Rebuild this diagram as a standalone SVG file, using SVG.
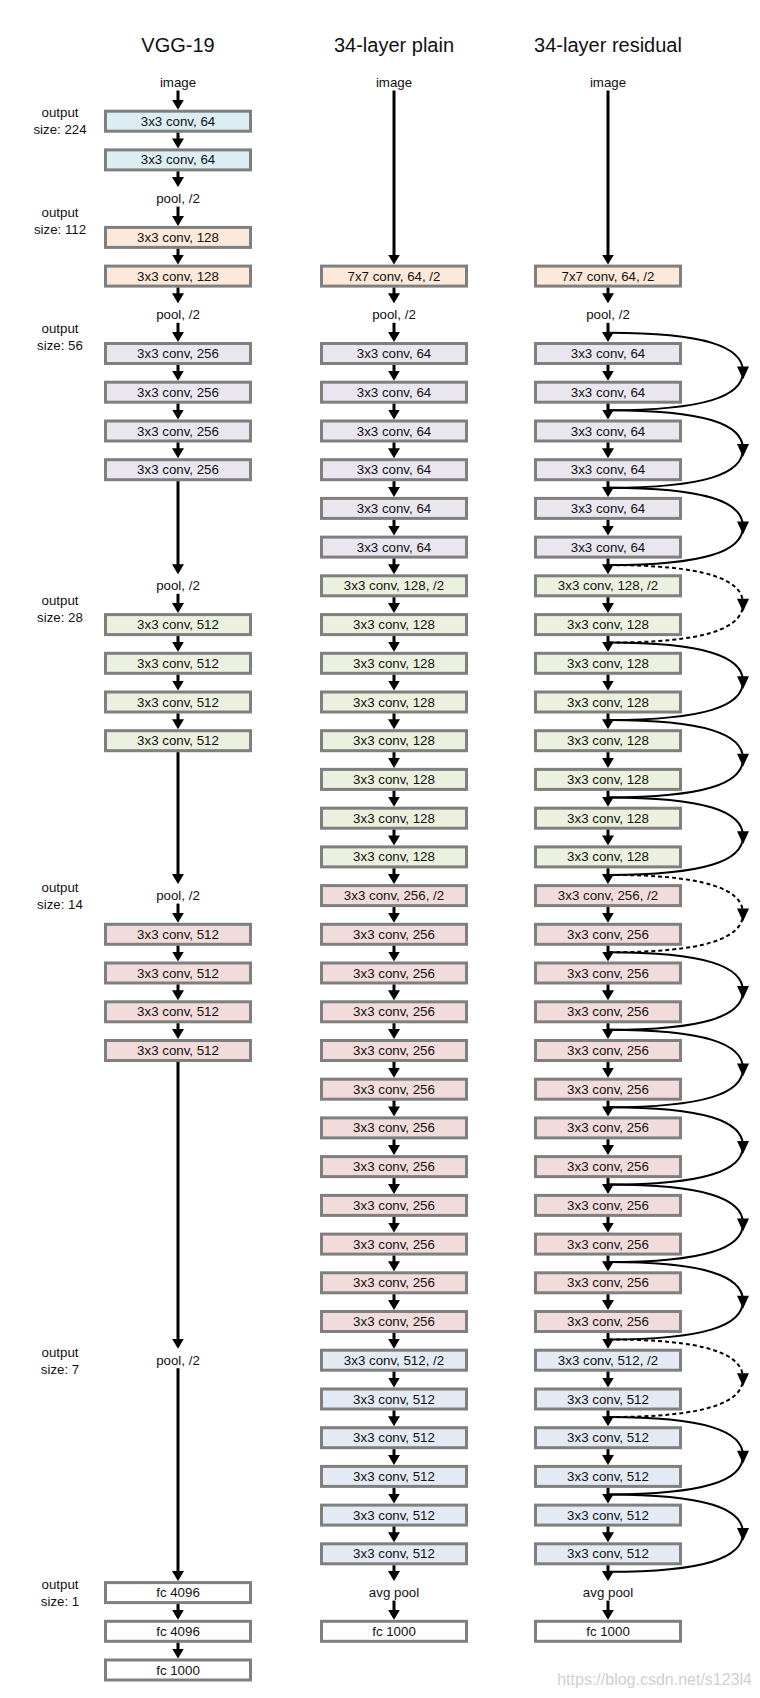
<svg xmlns="http://www.w3.org/2000/svg" xmlns:xlink="http://www.w3.org/1999/xlink" width="760" height="1698" viewBox="0 0 760 1698">
<style>
.b{stroke:#7f7f7f;stroke-width:3}
.cy{fill:#dbeef3}.pe{fill:#fde9d9}.la{fill:#e9e6f0}.gr{fill:#ebf1de}.pk{fill:#f2dcdb}.bl{fill:#e3eaf4}.wh{fill:#ffffff}
text{font-family:"Liberation Sans",Arial,sans-serif;fill:#111;text-anchor:middle}
.t{font-size:13.3px}
.ttl{font-size:20px}
.lbl{font-size:13.3px}
.wm{font-size:16px;fill:#d0d0d0;text-anchor:end}
.a{stroke:#000;stroke-width:3;fill:none;marker-end:url(#arr)}
.sc{stroke:#000;stroke-width:2;fill:none}
.sd{stroke-dasharray:4 3}
</style>
<defs>
<marker id="arr" markerUnits="userSpaceOnUse" viewBox="0 0 10 12" markerWidth="10" markerHeight="12" refX="4" refY="6" orient="auto"><path d="M0,0 L10,6 L0,12 z" fill="#000"/></marker>
<path id="ah" d="M-6,-5 L6,-5 L0,8 z" fill="#000"/>
</defs>
<rect width="760" height="1698" fill="#fff"/>
<g id="titles">
<text class="ttl" x="178" y="52">VGG-19</text>
<text class="ttl" x="394" y="52">34-layer plain</text>
<text class="ttl" x="608" y="52">34-layer residual</text>
</g>
<g id="output-labels">
<text class="lbl" x="60" y="117">output</text><text class="lbl" x="60" y="134">size: 224</text>
<text class="lbl" x="60" y="216.5">output</text><text class="lbl" x="60" y="233.5">size: 112</text>
<text class="lbl" x="60" y="333">output</text><text class="lbl" x="60" y="350">size: 56</text>
<text class="lbl" x="60" y="604.5">output</text><text class="lbl" x="60" y="621.5">size: 28</text>
<text class="lbl" x="60" y="892">output</text><text class="lbl" x="60" y="909">size: 14</text>
<text class="lbl" x="60" y="1357">output</text><text class="lbl" x="60" y="1374">size: 7</text>
<text class="lbl" x="60" y="1589">output</text><text class="lbl" x="60" y="1606">size: 1</text>
</g>
<g id="vgg">
<g id="v-image"><text class="t" x="178" y="87">image</text></g>
<g id="v0"><rect class="b cy" x="105.5" y="111.2" width="145" height="20"/><text class="t" x="178" y="125.7">3x3 conv, 64</text></g>
<g id="v1"><rect class="b cy" x="105.5" y="149.9" width="145" height="20"/><text class="t" x="178" y="164.4">3x3 conv, 64</text></g>
<g id="v-pool1"><text class="t" x="178" y="203.1">pool, /2</text></g>
<g id="v3"><rect class="b pe" x="105.5" y="227.4" width="145" height="20"/><text class="t" x="178" y="241.9">3x3 conv, 128</text></g>
<g id="v4"><rect class="b pe" x="105.5" y="266.1" width="145" height="20"/><text class="t" x="178" y="280.6">3x3 conv, 128</text></g>
<g id="v-pool2"><text class="t" x="178" y="319.3">pool, /2</text></g>
<g id="v6"><rect class="b la" x="105.5" y="343.5" width="145" height="20"/><text class="t" x="178" y="358">3x3 conv, 256</text></g>
<g id="v7"><rect class="b la" x="105.5" y="382.2" width="145" height="20"/><text class="t" x="178" y="396.7">3x3 conv, 256</text></g>
<g id="v8"><rect class="b la" x="105.5" y="421" width="145" height="20"/><text class="t" x="178" y="435.5">3x3 conv, 256</text></g>
<g id="v9"><rect class="b la" x="105.5" y="459.7" width="145" height="20"/><text class="t" x="178" y="474.2">3x3 conv, 256</text></g>
<g id="v-pool3"><text class="t" x="178" y="590.3">pool, /2</text></g>
<g id="v13"><rect class="b gr" x="105.5" y="614.6" width="145" height="20"/><text class="t" x="178" y="629.1">3x3 conv, 512</text></g>
<g id="v14"><rect class="b gr" x="105.5" y="653.3" width="145" height="20"/><text class="t" x="178" y="667.8">3x3 conv, 512</text></g>
<g id="v15"><rect class="b gr" x="105.5" y="692" width="145" height="20"/><text class="t" x="178" y="706.5">3x3 conv, 512</text></g>
<g id="v16"><rect class="b gr" x="105.5" y="730.7" width="145" height="20"/><text class="t" x="178" y="745.2">3x3 conv, 512</text></g>
<g id="v-pool4"><text class="t" x="178" y="900.1">pool, /2</text></g>
<g id="v21"><rect class="b pk" x="105.5" y="924.3" width="145" height="20"/><text class="t" x="178" y="938.8">3x3 conv, 512</text></g>
<g id="v22"><rect class="b pk" x="105.5" y="963" width="145" height="20"/><text class="t" x="178" y="977.5">3x3 conv, 512</text></g>
<g id="v23"><rect class="b pk" x="105.5" y="1001.8" width="145" height="20"/><text class="t" x="178" y="1016.3">3x3 conv, 512</text></g>
<g id="v24"><rect class="b pk" x="105.5" y="1040.5" width="145" height="20"/><text class="t" x="178" y="1055">3x3 conv, 512</text></g>
<g id="v-pool5"><text class="t" x="178" y="1364.7">pool, /2</text></g>
<g id="v38"><rect class="b wh" x="105.5" y="1582.6" width="145" height="20"/><text class="t" x="178" y="1597.1">fc 4096</text></g>
<g id="v39"><rect class="b wh" x="105.5" y="1621.3" width="145" height="20"/><text class="t" x="178" y="1635.8">fc 4096</text></g>
<g id="v40"><rect class="b wh" x="105.5" y="1660" width="145" height="20"/><text class="t" x="178" y="1674.5">fc 1000</text></g>
</g>
<g id="plain">
<g id="p-image"><text class="t" x="394" y="87">image</text></g>
<g id="p4"><rect class="b pe" x="321.5" y="266.1" width="145" height="20"/><text class="t" x="394" y="280.6">7x7 conv, 64, /2</text></g>
<g id="p-pool"><text class="t" x="394" y="319.3">pool, /2</text></g>
<g id="p6"><rect class="b la" x="321.5" y="343.5" width="145" height="20"/><text class="t" x="394" y="358">3x3 conv, 64</text></g>
<g id="p7"><rect class="b la" x="321.5" y="382.2" width="145" height="20"/><text class="t" x="394" y="396.7">3x3 conv, 64</text></g>
<g id="p8"><rect class="b la" x="321.5" y="421" width="145" height="20"/><text class="t" x="394" y="435.5">3x3 conv, 64</text></g>
<g id="p9"><rect class="b la" x="321.5" y="459.7" width="145" height="20"/><text class="t" x="394" y="474.2">3x3 conv, 64</text></g>
<g id="p10"><rect class="b la" x="321.5" y="498.4" width="145" height="20"/><text class="t" x="394" y="512.9">3x3 conv, 64</text></g>
<g id="p11"><rect class="b la" x="321.5" y="537.1" width="145" height="20"/><text class="t" x="394" y="551.6">3x3 conv, 64</text></g>
<g id="p12"><rect class="b gr" x="321.5" y="575.8" width="145" height="20"/><text class="t" x="394" y="590.3">3x3 conv, 128, /2</text></g>
<g id="p13"><rect class="b gr" x="321.5" y="614.6" width="145" height="20"/><text class="t" x="394" y="629.1">3x3 conv, 128</text></g>
<g id="p14"><rect class="b gr" x="321.5" y="653.3" width="145" height="20"/><text class="t" x="394" y="667.8">3x3 conv, 128</text></g>
<g id="p15"><rect class="b gr" x="321.5" y="692" width="145" height="20"/><text class="t" x="394" y="706.5">3x3 conv, 128</text></g>
<g id="p16"><rect class="b gr" x="321.5" y="730.7" width="145" height="20"/><text class="t" x="394" y="745.2">3x3 conv, 128</text></g>
<g id="p17"><rect class="b gr" x="321.5" y="769.4" width="145" height="20"/><text class="t" x="394" y="783.9">3x3 conv, 128</text></g>
<g id="p18"><rect class="b gr" x="321.5" y="808.2" width="145" height="20"/><text class="t" x="394" y="822.7">3x3 conv, 128</text></g>
<g id="p19"><rect class="b gr" x="321.5" y="846.9" width="145" height="20"/><text class="t" x="394" y="861.4">3x3 conv, 128</text></g>
<g id="p20"><rect class="b pk" x="321.5" y="885.6" width="145" height="20"/><text class="t" x="394" y="900.1">3x3 conv, 256, /2</text></g>
<g id="p21"><rect class="b pk" x="321.5" y="924.3" width="145" height="20"/><text class="t" x="394" y="938.8">3x3 conv, 256</text></g>
<g id="p22"><rect class="b pk" x="321.5" y="963" width="145" height="20"/><text class="t" x="394" y="977.5">3x3 conv, 256</text></g>
<g id="p23"><rect class="b pk" x="321.5" y="1001.8" width="145" height="20"/><text class="t" x="394" y="1016.3">3x3 conv, 256</text></g>
<g id="p24"><rect class="b pk" x="321.5" y="1040.5" width="145" height="20"/><text class="t" x="394" y="1055">3x3 conv, 256</text></g>
<g id="p25"><rect class="b pk" x="321.5" y="1079.2" width="145" height="20"/><text class="t" x="394" y="1093.7">3x3 conv, 256</text></g>
<g id="p26"><rect class="b pk" x="321.5" y="1117.9" width="145" height="20"/><text class="t" x="394" y="1132.4">3x3 conv, 256</text></g>
<g id="p27"><rect class="b pk" x="321.5" y="1156.6" width="145" height="20"/><text class="t" x="394" y="1171.1">3x3 conv, 256</text></g>
<g id="p28"><rect class="b pk" x="321.5" y="1195.4" width="145" height="20"/><text class="t" x="394" y="1209.9">3x3 conv, 256</text></g>
<g id="p29"><rect class="b pk" x="321.5" y="1234.1" width="145" height="20"/><text class="t" x="394" y="1248.6">3x3 conv, 256</text></g>
<g id="p30"><rect class="b pk" x="321.5" y="1272.8" width="145" height="20"/><text class="t" x="394" y="1287.3">3x3 conv, 256</text></g>
<g id="p31"><rect class="b pk" x="321.5" y="1311.5" width="145" height="20"/><text class="t" x="394" y="1326">3x3 conv, 256</text></g>
<g id="p32"><rect class="b bl" x="321.5" y="1350.2" width="145" height="20"/><text class="t" x="394" y="1364.7">3x3 conv, 512, /2</text></g>
<g id="p33"><rect class="b bl" x="321.5" y="1389" width="145" height="20"/><text class="t" x="394" y="1403.5">3x3 conv, 512</text></g>
<g id="p34"><rect class="b bl" x="321.5" y="1427.7" width="145" height="20"/><text class="t" x="394" y="1442.2">3x3 conv, 512</text></g>
<g id="p35"><rect class="b bl" x="321.5" y="1466.4" width="145" height="20"/><text class="t" x="394" y="1480.9">3x3 conv, 512</text></g>
<g id="p36"><rect class="b bl" x="321.5" y="1505.1" width="145" height="20"/><text class="t" x="394" y="1519.6">3x3 conv, 512</text></g>
<g id="p37"><rect class="b bl" x="321.5" y="1543.8" width="145" height="20"/><text class="t" x="394" y="1558.3">3x3 conv, 512</text></g>
<g id="p-avg"><text class="t" x="394" y="1597.1">avg pool</text></g>
<g id="p39"><rect class="b wh" x="321.5" y="1621.3" width="145" height="20"/><text class="t" x="394" y="1635.8">fc 1000</text></g>
</g>
<g id="residual">
<g id="r-image"><text class="t" x="608" y="87">image</text></g>
<g id="r4"><rect class="b pe" x="535.5" y="266.1" width="145" height="20"/><text class="t" x="608" y="280.6">7x7 conv, 64, /2</text></g>
<g id="r-pool"><text class="t" x="608" y="319.3">pool, /2</text></g>
<g id="r6"><rect class="b la" x="535.5" y="343.5" width="145" height="20"/><text class="t" x="608" y="358">3x3 conv, 64</text></g>
<g id="r7"><rect class="b la" x="535.5" y="382.2" width="145" height="20"/><text class="t" x="608" y="396.7">3x3 conv, 64</text></g>
<g id="r8"><rect class="b la" x="535.5" y="421" width="145" height="20"/><text class="t" x="608" y="435.5">3x3 conv, 64</text></g>
<g id="r9"><rect class="b la" x="535.5" y="459.7" width="145" height="20"/><text class="t" x="608" y="474.2">3x3 conv, 64</text></g>
<g id="r10"><rect class="b la" x="535.5" y="498.4" width="145" height="20"/><text class="t" x="608" y="512.9">3x3 conv, 64</text></g>
<g id="r11"><rect class="b la" x="535.5" y="537.1" width="145" height="20"/><text class="t" x="608" y="551.6">3x3 conv, 64</text></g>
<g id="r12"><rect class="b gr" x="535.5" y="575.8" width="145" height="20"/><text class="t" x="608" y="590.3">3x3 conv, 128, /2</text></g>
<g id="r13"><rect class="b gr" x="535.5" y="614.6" width="145" height="20"/><text class="t" x="608" y="629.1">3x3 conv, 128</text></g>
<g id="r14"><rect class="b gr" x="535.5" y="653.3" width="145" height="20"/><text class="t" x="608" y="667.8">3x3 conv, 128</text></g>
<g id="r15"><rect class="b gr" x="535.5" y="692" width="145" height="20"/><text class="t" x="608" y="706.5">3x3 conv, 128</text></g>
<g id="r16"><rect class="b gr" x="535.5" y="730.7" width="145" height="20"/><text class="t" x="608" y="745.2">3x3 conv, 128</text></g>
<g id="r17"><rect class="b gr" x="535.5" y="769.4" width="145" height="20"/><text class="t" x="608" y="783.9">3x3 conv, 128</text></g>
<g id="r18"><rect class="b gr" x="535.5" y="808.2" width="145" height="20"/><text class="t" x="608" y="822.7">3x3 conv, 128</text></g>
<g id="r19"><rect class="b gr" x="535.5" y="846.9" width="145" height="20"/><text class="t" x="608" y="861.4">3x3 conv, 128</text></g>
<g id="r20"><rect class="b pk" x="535.5" y="885.6" width="145" height="20"/><text class="t" x="608" y="900.1">3x3 conv, 256, /2</text></g>
<g id="r21"><rect class="b pk" x="535.5" y="924.3" width="145" height="20"/><text class="t" x="608" y="938.8">3x3 conv, 256</text></g>
<g id="r22"><rect class="b pk" x="535.5" y="963" width="145" height="20"/><text class="t" x="608" y="977.5">3x3 conv, 256</text></g>
<g id="r23"><rect class="b pk" x="535.5" y="1001.8" width="145" height="20"/><text class="t" x="608" y="1016.3">3x3 conv, 256</text></g>
<g id="r24"><rect class="b pk" x="535.5" y="1040.5" width="145" height="20"/><text class="t" x="608" y="1055">3x3 conv, 256</text></g>
<g id="r25"><rect class="b pk" x="535.5" y="1079.2" width="145" height="20"/><text class="t" x="608" y="1093.7">3x3 conv, 256</text></g>
<g id="r26"><rect class="b pk" x="535.5" y="1117.9" width="145" height="20"/><text class="t" x="608" y="1132.4">3x3 conv, 256</text></g>
<g id="r27"><rect class="b pk" x="535.5" y="1156.6" width="145" height="20"/><text class="t" x="608" y="1171.1">3x3 conv, 256</text></g>
<g id="r28"><rect class="b pk" x="535.5" y="1195.4" width="145" height="20"/><text class="t" x="608" y="1209.9">3x3 conv, 256</text></g>
<g id="r29"><rect class="b pk" x="535.5" y="1234.1" width="145" height="20"/><text class="t" x="608" y="1248.6">3x3 conv, 256</text></g>
<g id="r30"><rect class="b pk" x="535.5" y="1272.8" width="145" height="20"/><text class="t" x="608" y="1287.3">3x3 conv, 256</text></g>
<g id="r31"><rect class="b pk" x="535.5" y="1311.5" width="145" height="20"/><text class="t" x="608" y="1326">3x3 conv, 256</text></g>
<g id="r32"><rect class="b bl" x="535.5" y="1350.2" width="145" height="20"/><text class="t" x="608" y="1364.7">3x3 conv, 512, /2</text></g>
<g id="r33"><rect class="b bl" x="535.5" y="1389" width="145" height="20"/><text class="t" x="608" y="1403.5">3x3 conv, 512</text></g>
<g id="r34"><rect class="b bl" x="535.5" y="1427.7" width="145" height="20"/><text class="t" x="608" y="1442.2">3x3 conv, 512</text></g>
<g id="r35"><rect class="b bl" x="535.5" y="1466.4" width="145" height="20"/><text class="t" x="608" y="1480.9">3x3 conv, 512</text></g>
<g id="r36"><rect class="b bl" x="535.5" y="1505.1" width="145" height="20"/><text class="t" x="608" y="1519.6">3x3 conv, 512</text></g>
<g id="r37"><rect class="b bl" x="535.5" y="1543.8" width="145" height="20"/><text class="t" x="608" y="1558.3">3x3 conv, 512</text></g>
<g id="r-avg"><text class="t" x="608" y="1597.1">avg pool</text></g>
<g id="r39"><rect class="b wh" x="535.5" y="1621.3" width="145" height="20"/><text class="t" x="608" y="1635.8">fc 1000</text></g>
</g>
<g id="connectors">
<g id="vgg-arrows">
<line class="a" x1="178" y1="90.5" x2="178" y2="103.7"/>
<line class="a" x1="178" y1="132.7" x2="178" y2="142.4"/>
<line class="a" x1="178" y1="171.4" x2="178" y2="181.1"/>
<line class="a" x1="178" y1="206.6" x2="178" y2="219.9"/>
<line class="a" x1="178" y1="248.9" x2="178" y2="258.6"/>
<line class="a" x1="178" y1="287.6" x2="178" y2="297.3"/>
<line class="a" x1="178" y1="322.8" x2="178" y2="336"/>
<line class="a" x1="178" y1="365" x2="178" y2="374.7"/>
<line class="a" x1="178" y1="403.7" x2="178" y2="413.5"/>
<line class="a" x1="178" y1="442.5" x2="178" y2="452.2"/>
<line class="a" x1="178" y1="481.2" x2="178" y2="568.3"/>
<line class="a" x1="178" y1="593.8" x2="178" y2="607.1"/>
<line class="a" x1="178" y1="636.1" x2="178" y2="645.8"/>
<line class="a" x1="178" y1="674.8" x2="178" y2="684.5"/>
<line class="a" x1="178" y1="713.5" x2="178" y2="723.2"/>
<line class="a" x1="178" y1="752.2" x2="178" y2="878.1"/>
<line class="a" x1="178" y1="903.6" x2="178" y2="916.8"/>
<line class="a" x1="178" y1="945.8" x2="178" y2="955.5"/>
<line class="a" x1="178" y1="984.5" x2="178" y2="994.3"/>
<line class="a" x1="178" y1="1023.3" x2="178" y2="1033"/>
<line class="a" x1="178" y1="1062" x2="178" y2="1342.7"/>
<line class="a" x1="178" y1="1368.2" x2="178" y2="1575.1"/>
<line class="a" x1="178" y1="1604.1" x2="178" y2="1613.8"/>
<line class="a" x1="178" y1="1642.8" x2="178" y2="1652.5"/>
</g>
<g id="plain-arrows">
<line class="a" x1="394" y1="90.5" x2="394" y2="258.6"/>
<line class="a" x1="394" y1="287.6" x2="394" y2="297.3"/>
<line class="a" x1="394" y1="322.8" x2="394" y2="336"/>
<line class="a" x1="394" y1="365" x2="394" y2="374.7"/>
<line class="a" x1="394" y1="403.7" x2="394" y2="413.5"/>
<line class="a" x1="394" y1="442.5" x2="394" y2="452.2"/>
<line class="a" x1="394" y1="481.2" x2="394" y2="490.9"/>
<line class="a" x1="394" y1="519.9" x2="394" y2="529.6"/>
<line class="a" x1="394" y1="558.6" x2="394" y2="568.3"/>
<line class="a" x1="394" y1="597.3" x2="394" y2="607.1"/>
<line class="a" x1="394" y1="636.1" x2="394" y2="645.8"/>
<line class="a" x1="394" y1="674.8" x2="394" y2="684.5"/>
<line class="a" x1="394" y1="713.5" x2="394" y2="723.2"/>
<line class="a" x1="394" y1="752.2" x2="394" y2="761.9"/>
<line class="a" x1="394" y1="790.9" x2="394" y2="800.7"/>
<line class="a" x1="394" y1="829.7" x2="394" y2="839.4"/>
<line class="a" x1="394" y1="868.4" x2="394" y2="878.1"/>
<line class="a" x1="394" y1="907.1" x2="394" y2="916.8"/>
<line class="a" x1="394" y1="945.8" x2="394" y2="955.5"/>
<line class="a" x1="394" y1="984.5" x2="394" y2="994.3"/>
<line class="a" x1="394" y1="1023.3" x2="394" y2="1033"/>
<line class="a" x1="394" y1="1062" x2="394" y2="1071.7"/>
<line class="a" x1="394" y1="1100.7" x2="394" y2="1110.4"/>
<line class="a" x1="394" y1="1139.4" x2="394" y2="1149.1"/>
<line class="a" x1="394" y1="1178.1" x2="394" y2="1187.9"/>
<line class="a" x1="394" y1="1216.9" x2="394" y2="1226.6"/>
<line class="a" x1="394" y1="1255.6" x2="394" y2="1265.3"/>
<line class="a" x1="394" y1="1294.3" x2="394" y2="1304"/>
<line class="a" x1="394" y1="1333" x2="394" y2="1342.7"/>
<line class="a" x1="394" y1="1371.7" x2="394" y2="1381.5"/>
<line class="a" x1="394" y1="1410.5" x2="394" y2="1420.2"/>
<line class="a" x1="394" y1="1449.2" x2="394" y2="1458.9"/>
<line class="a" x1="394" y1="1487.9" x2="394" y2="1497.6"/>
<line class="a" x1="394" y1="1526.6" x2="394" y2="1536.3"/>
<line class="a" x1="394" y1="1565.3" x2="394" y2="1575.1"/>
<line class="a" x1="394" y1="1600.6" x2="394" y2="1613.8"/>
</g>
<g id="residual-arrows">
<line class="a" x1="608" y1="90.5" x2="608" y2="258.6"/>
<line class="a" x1="608" y1="287.6" x2="608" y2="297.3"/>
<line class="a" x1="608" y1="322.8" x2="608" y2="336"/>
<line class="a" x1="608" y1="365" x2="608" y2="374.7"/>
<line class="a" x1="608" y1="403.7" x2="608" y2="413.5"/>
<line class="a" x1="608" y1="442.5" x2="608" y2="452.2"/>
<line class="a" x1="608" y1="481.2" x2="608" y2="490.9"/>
<line class="a" x1="608" y1="519.9" x2="608" y2="529.6"/>
<line class="a" x1="608" y1="558.6" x2="608" y2="568.3"/>
<line class="a" x1="608" y1="597.3" x2="608" y2="607.1"/>
<line class="a" x1="608" y1="636.1" x2="608" y2="645.8"/>
<line class="a" x1="608" y1="674.8" x2="608" y2="684.5"/>
<line class="a" x1="608" y1="713.5" x2="608" y2="723.2"/>
<line class="a" x1="608" y1="752.2" x2="608" y2="761.9"/>
<line class="a" x1="608" y1="790.9" x2="608" y2="800.7"/>
<line class="a" x1="608" y1="829.7" x2="608" y2="839.4"/>
<line class="a" x1="608" y1="868.4" x2="608" y2="878.1"/>
<line class="a" x1="608" y1="907.1" x2="608" y2="916.8"/>
<line class="a" x1="608" y1="945.8" x2="608" y2="955.5"/>
<line class="a" x1="608" y1="984.5" x2="608" y2="994.3"/>
<line class="a" x1="608" y1="1023.3" x2="608" y2="1033"/>
<line class="a" x1="608" y1="1062" x2="608" y2="1071.7"/>
<line class="a" x1="608" y1="1100.7" x2="608" y2="1110.4"/>
<line class="a" x1="608" y1="1139.4" x2="608" y2="1149.1"/>
<line class="a" x1="608" y1="1178.1" x2="608" y2="1187.9"/>
<line class="a" x1="608" y1="1216.9" x2="608" y2="1226.6"/>
<line class="a" x1="608" y1="1255.6" x2="608" y2="1265.3"/>
<line class="a" x1="608" y1="1294.3" x2="608" y2="1304"/>
<line class="a" x1="608" y1="1333" x2="608" y2="1342.7"/>
<line class="a" x1="608" y1="1371.7" x2="608" y2="1381.5"/>
<line class="a" x1="608" y1="1410.5" x2="608" y2="1420.2"/>
<line class="a" x1="608" y1="1449.2" x2="608" y2="1458.9"/>
<line class="a" x1="608" y1="1487.9" x2="608" y2="1497.6"/>
<line class="a" x1="608" y1="1526.6" x2="608" y2="1536.3"/>
<line class="a" x1="608" y1="1565.3" x2="608" y2="1575.1"/>
<line class="a" x1="608" y1="1600.6" x2="608" y2="1613.8"/>
</g>
<g id="shortcuts">
<path class="sc" d="M609 332.8 C705 332.8 743 346.8 743 371.5 C743 396.2 705 410.2 609 410.2"/><use xlink:href="#ah" x="743" y="371.5"/>
<path class="sc" d="M609 410.2 C705 410.2 743 424.2 743 449 C743 473.7 705 487.7 609 487.7"/><use xlink:href="#ah" x="743" y="449"/>
<path class="sc" d="M609 487.7 C705 487.7 743 501.7 743 526.4 C743 551.1 705 565.1 609 565.1"/><use xlink:href="#ah" x="743" y="526.4"/>
<path class="sc sd" d="M609 565.1 C705 565.1 743 579.1 743 603.8 C743 628.6 705 642.6 609 642.6"/><use xlink:href="#ah" x="743" y="603.8"/>
<path class="sc" d="M609 642.6 C705 642.6 743 656.6 743 681.3 C743 706 705 720 609 720"/><use xlink:href="#ah" x="743" y="681.3"/>
<path class="sc" d="M609 720 C705 720 743 734 743 758.7 C743 783.4 705 797.4 609 797.4"/><use xlink:href="#ah" x="743" y="758.7"/>
<path class="sc" d="M609 797.4 C705 797.4 743 811.4 743 836.2 C743 860.9 705 874.9 609 874.9"/><use xlink:href="#ah" x="743" y="836.2"/>
<path class="sc sd" d="M609 874.9 C705 874.9 743 888.9 743 913.6 C743 938.3 705 952.3 609 952.3"/><use xlink:href="#ah" x="743" y="913.6"/>
<path class="sc" d="M609 952.3 C705 952.3 743 966.3 743 991.1 C743 1015.8 705 1029.8 609 1029.8"/><use xlink:href="#ah" x="743" y="991.1"/>
<path class="sc" d="M609 1029.8 C705 1029.8 743 1043.8 743 1068.5 C743 1093.2 705 1107.2 609 1107.2"/><use xlink:href="#ah" x="743" y="1068.5"/>
<path class="sc" d="M609 1107.2 C705 1107.2 743 1121.2 743 1145.9 C743 1170.6 705 1184.6 609 1184.6"/><use xlink:href="#ah" x="743" y="1145.9"/>
<path class="sc" d="M609 1184.6 C705 1184.6 743 1198.6 743 1223.4 C743 1248.1 705 1262.1 609 1262.1"/><use xlink:href="#ah" x="743" y="1223.4"/>
<path class="sc" d="M609 1262.1 C705 1262.1 743 1276.1 743 1300.8 C743 1325.5 705 1339.5 609 1339.5"/><use xlink:href="#ah" x="743" y="1300.8"/>
<path class="sc sd" d="M609 1339.5 C705 1339.5 743 1353.5 743 1378.3 C743 1403 705 1417 609 1417"/><use xlink:href="#ah" x="743" y="1378.3"/>
<path class="sc" d="M609 1417 C705 1417 743 1431 743 1455.7 C743 1480.4 705 1494.4 609 1494.4"/><use xlink:href="#ah" x="743" y="1455.7"/>
<path class="sc" d="M609 1494.4 C705 1494.4 743 1508.4 743 1533.1 C743 1557.8 705 1571.8 609 1571.8"/><use xlink:href="#ah" x="743" y="1533.1"/>
</g>
</g>
<text class="wm" x="752" y="1685">https://blog.csdn.net/s123l4</text>
</svg>
